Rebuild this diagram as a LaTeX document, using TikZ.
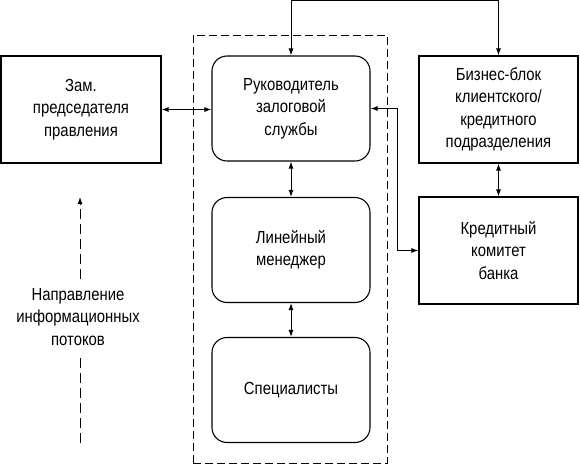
\documentclass[tikz,border=0pt]{standalone}
\usepackage{fontspec}
\setmainfont[FakeStretch=0.85]{Liberation Sans}
\usetikzlibrary{arrows.meta}
\begin{document}
\begin{tikzpicture}[x=1pt, y=-1pt, >={Latex[length=7pt,width=5pt]},
        every node/.style={font=\fontsize{17.5}{22.5}\selectfont, align=center},
        plainbox/.style={draw, line width=1.1pt, minimum width=159pt, minimum height=107pt, inner sep=0pt},
        roundbox/.style={draw, line width=1.1pt, rounded corners=15pt, minimum width=158pt, minimum height=105pt, inner sep=0pt},
        link/.style={<->, line width=1pt}]
        \useasboundingbox (0,0) rectangle (580,464);
        % group of the pledge service (dashed frame)
        \node[draw, dashed, dash pattern=on 8pt off 4pt, line width=0.9pt, minimum width=194pt, minimum height=428pt] (grp) at (290,249) {};
        % boxes inside the frame
        \node[roundbox] (ruk) at (291,108.5) {Руководитель\\залоговой\\службы};
        \node[roundbox] (lin) at (291,250) {Линейный\\менеджер};
        \node[roundbox] (spec) at (291,390) {Специалисты};
        % boxes outside the frame
        \node[plainbox, minimum width=160pt] (zam) at (81,109.5) {Зам.\\председателя\\правления};
        \node[plainbox] (biz) at (498.5,109.5) {Бизнес-блок\\клиентского/\\кредитного\\подразделения};
        \node[plainbox] (kom) at (498.5,250.5) {Кредитный\\комитет\\банка};

        % connectors
        \draw[link] (zam.east) -- (zam.east -| ruk.west);
        \draw[link] (ruk.south) -- (lin.north);
        \draw[link] (lin.south) -- (spec.north);
        \draw[link] (biz.south) -- (kom.north);
        \draw[link] (ruk.north) -- ++(0,-55) -| (biz.north);
        \draw[link] (ruk.east) -- ++(27,0) |- (kom.west);

        % direction of the information flows
        \node[inner xsep=0pt, inner ysep=9pt] (flow) at (78,317) {Направление\\информационных\\потоков};
        \coordinate (flowtop) at (80,197);
        \coordinate (flowbot) at (80,443);
        \draw[dashed, dash pattern=on 10pt off 5pt, line width=0.9pt] (flowbot) -- (flowbot |- flow.south);
        \draw[->, dashed, dash pattern=on 10pt off 5pt, line width=0.9pt] (flowtop |- flow.north) -- (flowtop);
\end{tikzpicture}
\end{document}
